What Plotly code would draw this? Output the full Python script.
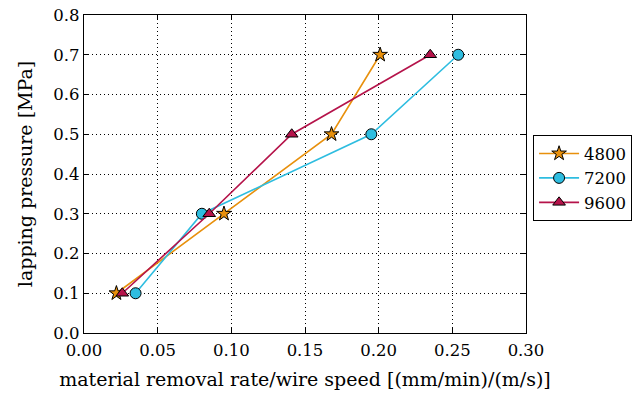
import plotly.graph_objects as go

pressure = [0.1, 0.3, 0.5, 0.7]
mrr_4800 = [0.022, 0.095, 0.168, 0.201]
mrr_7200 = [0.035, 0.080, 0.195, 0.254]
mrr_9600 = [0.026, 0.085, 0.141, 0.235]
series_names = ["4800", "7200", "9600"]
colors = ["#e8900c", "#2ebde0", "#b5134a"]
symbols = ["star", "circle", "triangle-up"]
x_ticks = [0.0, 0.05, 0.10, 0.15, 0.20, 0.25, 0.30]
x_tick_labels = ["0.00", "0.05", "0.10", "0.15", "0.20", "0.25", "0.30"]
y_ticks = [0.0, 0.1, 0.2, 0.3, 0.4, 0.5, 0.6, 0.7, 0.8]
y_tick_labels = ["0.0", "0.1", "0.2", "0.3", "0.4", "0.5", "0.6", "0.7", "0.8"]

FONT = "DejaVu Serif"
TICK_FS = 16.5
TITLE_FS = 19
fig = go.Figure()
sizes = [11, 11, 11]
for name, xs, c, s, sz in zip(series_names, [mrr_4800, mrr_7200, mrr_9600], colors, symbols, sizes):
    fig.add_trace(go.Scatter(
        x=xs, y=pressure, name=name, mode="lines+markers",
        line=dict(color=c, width=1.6),
        marker=dict(symbol=s, size=sz, color=c, line=dict(color="black", width=1)),
    ))

axis_common = dict(
    showline=True, linecolor="black", linewidth=1.2, mirror="ticks",
    ticks="inside", ticklen=5, tickcolor="black",
    showgrid=True, gridcolor="black", griddash="1px,3px", gridwidth=1,
    zeroline=False, tickfont=dict(family=FONT, size=TICK_FS, color="black"),
    automargin=False,
)
fig.update_xaxes(range=[0, 0.30], tickvals=x_ticks, ticktext=x_tick_labels,
                 ticklabelstandoff=2,
                 title=dict(text="material removal rate/wire speed [(mm/min)/(m/s)]",
                            font=dict(family=FONT, size=TITLE_FS, color="black"), standoff=13),
                 **axis_common)
fig.update_yaxes(range=[0, 0.8], tickvals=y_ticks, ticktext=y_tick_labels,
                 title=dict(text="lapping pressure [MPa]",
                            font=dict(family=FONT, size=TITLE_FS, color="black"), standoff=15),
                 **axis_common)
fig.update_layout(
    width=633, height=399,
    margin=dict(l=84, r=107, t=15, b=66, autoexpand=False),
    paper_bgcolor="white", plot_bgcolor="white",
    legend=dict(x=1.016, y=0.622, xanchor="left", yanchor="top",
                bordercolor="black", borderwidth=1,
                font=dict(family=FONT, size=TICK_FS, color="black"),
                tracegroupgap=0, itemwidth=40),
    font=dict(family=FONT, color="black"),
)
fig.write_html("out.html")
